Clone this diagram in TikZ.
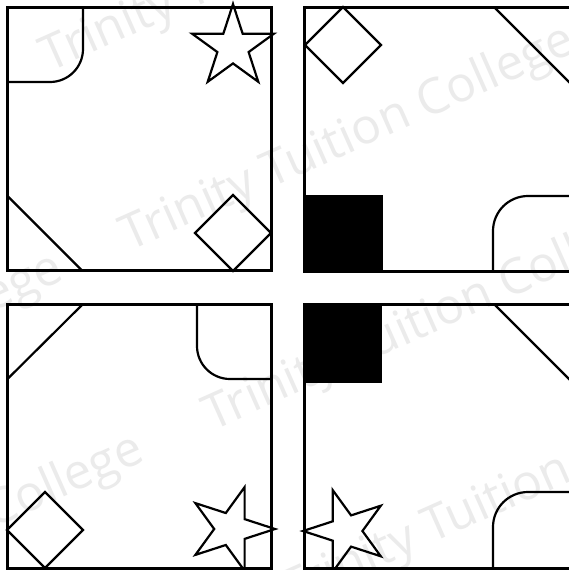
\documentclass[tikz,border=0pt]{standalone}
\usepackage{fontspec}
\newfontfamily\wmfont{Open Sans}
\tikzset{
  frame/.style={draw=black, line width=3pt},
  shp/.style={draw=black, line width=2.2pt, line join=miter},
  blk/.style={fill=black, draw=black, line width=0.5pt},
  wm/.style={anchor=base west, rotate=24, text=black!8, inner sep=0pt,
    font=\wmfont\fontsize{49}{49}\selectfont}
}
\newcommand{\drawstar}[4]{% cx, cy, rotation, R (with unit)
  \draw[shp] ([shift={(#1,#2)}]{90+#3}:#4)
    \foreach \k in {0,...,4}{
      -- ([shift={(#1,#2)}]{90+#3+\k*72+36}:0.382*#4)
      -- ([shift={(#1,#2)}]{90+#3+\k*72+72}:#4)
    } -- cycle;}
\newcommand{\drawdiamond}[3]{% cx, cy, half diagonal
  \draw[shp] (#1,#2-#3) -- (#1+#3,#2) -- (#1,#2+#3) -- (#1-#3,#2) -- cycle;}
\begin{document}
\begin{tikzpicture}[x=1pt,y=-1pt]
\useasboundingbox[fill=white] (0,0) rectangle (568,570);
% watermark
\node[wm] (wmA)  at (49.6,72.1)    {Trinity Tuition College};
\node[wm] (wmB0) at (-382.4,479.1) {Trinity Tuition College};
\node[wm] (wmB1) at (129.4,251.2)  {Trinity Tuition College};
\node[wm] (wmC0) at (-301.8,660.1) {Trinity Tuition College};
\node[wm] (wmC1) at (212,431.2)    {Trinity Tuition College};
\node[wm] (wmD1) at (290.1,606.7)  {Trinity Tuition College};

% ---------- top-left ----------
\draw[frame] (7.5,7) rectangle (271.5,270.5);
\draw[shp] (83,7) [rounded corners=33pt] -- (83,82) -- (7.5,82);
\drawstar{233}{47}{0}{43pt}
\drawdiamond{233}{233}{38}
\draw[shp] (7.5,196) -- (82,270.5);

% ---------- top-right ----------
\draw[blk] (304,195) rectangle (382,271);
\draw[frame] (304,7) rectangle (572,271);
\drawdiamond{343}{45}{38}
\draw[shp] (494,7) -- (572,85);
\draw[shp] (493,271) [rounded corners=35pt] -- (493,196) -- (572,196);

% ---------- bottom-left ----------
\draw[frame] (7.5,304) rectangle (271.5,568);
\draw[shp] (7.5,379) -- (83,304);
\draw[shp] (197,304) [rounded corners=33pt] -- (197,379) -- (271.5,379);
\drawdiamond{45}{530}{38}
\drawstar{231}{529}{-90}{44pt}

% ---------- bottom-right ----------
\draw[blk] (304,304) rectangle (381,382);
\draw[frame] (304,304) rectangle (572,568);
\draw[shp] (494,304) -- (572,382);
\draw[shp] (493,568) [rounded corners=35pt] -- (493,492) -- (572,492);
\drawstar{346}{531}{90}{43pt}
\end{tikzpicture}
\end{document}
